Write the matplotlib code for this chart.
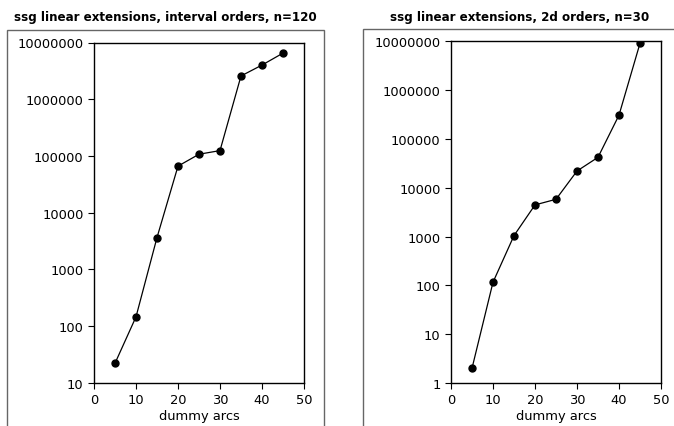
import matplotlib.pyplot as plt
from matplotlib.patches import Rectangle
from matplotlib.ticker import FixedLocator, FuncFormatter, NullLocator

# dummy arcs
arcs = [5, 10, 15, 20, 25, 30, 35, 40, 45]

# ssg linear extensions, interval orders, n=120
interval_vals = [22, 145, 3630, 66000, 107000, 124000, 2570000, 4000000, 6500000]

# ssg linear extensions, 2d orders, n=30
twod_vals = [2, 116, 1045, 4450, 5800, 22000, 42000, 307000, 9100000]

W, H = 674, 427
fig = plt.figure(figsize=(W / 100, H / 100), dpi=100)


def fx(px):
    return px / W


def fy(py):
    return 1 - py / H


# outer frames of the two panels
fig.patches.append(Rectangle((fx(7), fy(440)), fx(324 - 7), (440 - 31) / H,
                             transform=fig.transFigure, fill=False,
                             edgecolor="#666666", linewidth=1.0))
fig.patches.append(Rectangle((fx(363), fy(440)), fx(690 - 363), (440 - 30) / H,
                             transform=fig.transFigure, fill=False,
                             edgecolor="#666666", linewidth=1.0))

ax1 = fig.add_axes([fx(94), fy(383.7), fx(304 - 94), (383.7 - 43.5) / H])
ax2 = fig.add_axes([fx(451), fy(384), fx(661 - 451), (384 - 42.3) / H])

fmt = FuncFormatter(lambda v, p: "%d" % round(v))

panels = [
    (ax1, interval_vals, 10, 1e7, "ssg linear extensions, interval orders, n=120", 165),
    (ax2, twod_vals, 1, 1e7, "ssg linear extensions, 2d orders, n=30", 520),
]

for ax, vals, lo, hi, title, tx in panels:
    ax.plot(arcs, vals, color="black", linewidth=0.9, marker="o", markersize=5)
    ax.set_yscale("log")
    ax.set_ylim(lo, hi)
    ax.set_xlim(0, 50)
    ticks = []
    t = lo
    while t <= hi:
        ticks.append(t)
        t *= 10
    ax.yaxis.set_major_locator(FixedLocator(ticks))
    ax.yaxis.set_minor_locator(NullLocator())
    ax.yaxis.set_major_formatter(fmt)
    ax.set_xticks([0, 10, 20, 30, 40, 50])
    ax.tick_params(labelsize=9.4, length=4.5, width=0.8, pad=3)
    ax.set_xlabel("dummy arcs", fontsize=9.4, labelpad=2)
    for s in ax.spines.values():
        s.set_linewidth(1.0)
    fig.text(fx(tx), fy(18), title, ha="center", va="center",
             fontsize=8.6, fontweight="bold")

fig.savefig("out.png", dpi=100)
